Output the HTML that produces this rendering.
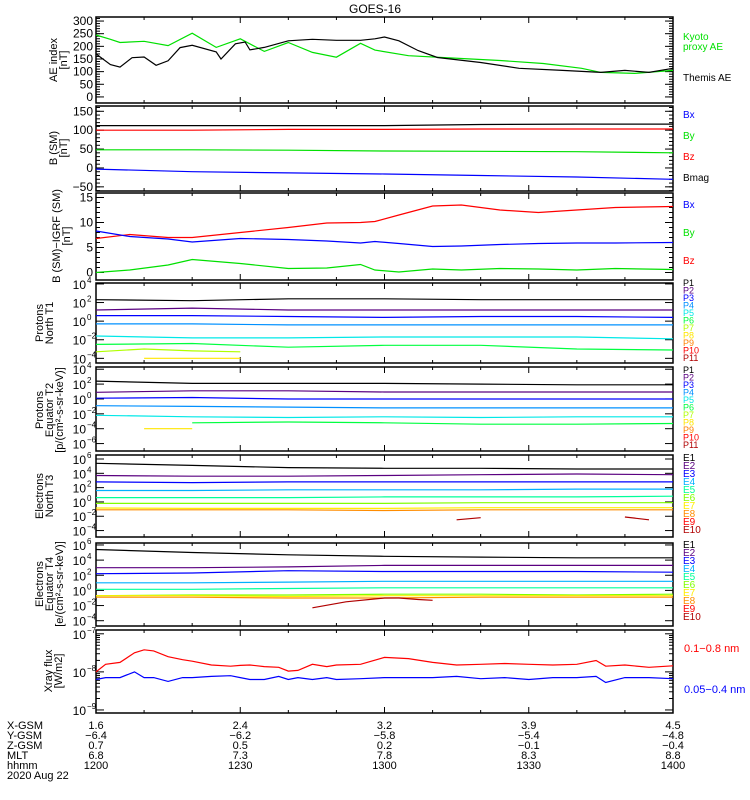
<!DOCTYPE html>
<html><head><meta charset="utf-8"><style>
body{margin:0;background:#fff;}
svg{display:block;font-family:"Liberation Sans",sans-serif;}
</style></head><body>
<svg id="c" width="750" height="800" viewBox="0 0 750 800"></svg>
<script>
// ---------- data ----------
const aeKyotoT=[0,3,5,10,15,20,25,30,35,40,45,50,55,58,65,76,84,93,101,105,112,120];
const aeKyotoV=[245,228,215,220,203,252,196,230,180,215,176,157,212,185,163,152,144,132,113,97,93,105];
const aeThemisT=[0,3,5,7.5,10,12.5,15,17.5,20,25,26,29,31,32,35,40,45,50,55,58,60,63,67,71,80,88,97,105,110,115,120];
const aeThemisV=[170,128,118,155,158,125,143,195,204,178,150,210,217,186,196,222,228,224,224,230,237,222,183,156,136,113,105,97,105,97,113];
const T7=[0,20,40,60,80,100,120];
const bmagV=[112,112,112,112,115,116,116];
const bzV=[100,100,102,102,103,103,103];
const byV=[48,48,47,45,44,43,40];
const bxV=[-3,-10,-13,-16,-20,-24,-30];
const dT=[0,7,15,20,30,40,48,55,58,63,70,76,84,92,100,108,120];
const dRed=[6.8,7.6,7.0,7.0,8.0,9.0,9.9,10.0,10.2,11.5,13.3,13.5,12.5,12.0,12.5,13.0,13.2];
const dBlue=[8.3,7.2,6.7,6.1,6.8,6.6,6.3,5.9,6.2,5.8,5.2,5.3,5.6,5.8,5.9,5.9,6.0];
const dGreen=[0,0.5,1.5,2.6,1.8,0.8,0.9,1.6,0.5,0.1,0.7,0.5,0.8,0.7,0.5,0.8,0.6];
const p1Series=[[2.3,2.2,2.4,2.4,2.3,2.3,2.3],[1.2,1.4,1.2,1.2,1.2,1.2,1.2],[0.6,0.6,0.5,0.4,0.5,0.5,0.4],[-0.3,-0.3,-0.4,-0.4,-0.4,-0.4,-0.4],[-1.6,-1.8,-1.8,-1.7,-1.7,-1.7,-1.9],[-2.5,-2.4,-2.8,-2.6,-2.6,-3.0,-3.1]];
const p1LowT=[0,10,20,30];const p1P7=[-3.3,-3.0,-3.2,-3.3];
const p1P8T=[10,30];const p1P8=[-4.0,-4.0];
const p2Series=[[2.4,2.1,2.1,2.1,2.0,1.9,1.9],[0.9,1.1,1.1,0.94,0.94,0.94,0.94],[0.1,0.2,0,0,0,0,0],[-0.9,-1.0,-1.1,-1.2,-1.2,-1.2,-1.2],[-2.2,-2.4,-2.5,-2.4,-2.5,-2.4,-2.4],[null,-3.2,-3.1,-3.2,-3.4,-3.4,-3.3]];
const p2P8T=[10,20];const p2P8=[-4.0,-4.0];
const e3Series=[[5.4,5.1,4.8,4.7,4.7,4.6,4.6],[3.7,3.6,3.6,3.7,3.8,3.9,3.8],[2.8,2.7,2.8,2.8,2.8,2.8,2.8],[1.6,1.6,1.7,1.7,1.7,1.8,1.8],[0.6,0.6,0.6,0.7,0.7,0.7,0.8],[-0.2,-0.2,-0.2,-0.2,-0.1,-0.1,-0.1],[-0.85,-0.9,-0.9,-0.9,-0.8,-0.8,-0.8],[-1.1,-1.1,-1.1,-1.2,-1.1,-1.1,-1.1]];
const e3E10aT=[75,80];const e3E10a=[-2.5,-2.2];
const e3E10bT=[110,115];const e3E10b=[-2.1,-2.5];
const e4Series=[[5.4,5.0,4.7,4.5,4.4,4.3,4.3],[3.0,3.0,3.1,3.3,3.3,3.3,3.3],[2.2,2.3,2.6,2.5,2.5,2.5,2.4],[1.0,1.0,1.1,1.2,1.2,1.2,1.2],[0.15,0.15,0.25,0.35,0.35,0.35,0.35],[-0.7,-0.6,-0.6,-0.5,-0.5,-0.6,-0.5],[-0.7,-0.7,-0.8,-0.7,-0.7,-0.7,-0.7],[-0.9,-0.9,-1.0,-1.0,-0.9,-0.9,-0.9]];
const e4E10T=[45,52,60,63,67,70];const e4E10=[-2.3,-1.5,-1.0,-1.0,-1.2,-1.3];
const xT=[0,2,5,8,10,12,15,18,20,24,28,30,32,35,38,40,42,45,48,50,55,60,65,70,75,80,85,90,95,100,104,106,110,115,120];
const xRed=[-8.0,-7.8,-7.75,-7.5,-7.42,-7.45,-7.6,-7.68,-7.72,-7.82,-7.85,-7.83,-7.82,-7.86,-7.88,-7.98,-7.96,-7.8,-7.86,-7.82,-7.8,-7.62,-7.65,-7.75,-7.82,-7.8,-7.78,-7.8,-7.82,-7.8,-7.7,-7.85,-7.82,-7.88,-7.84];
const xBlue=[-8.2,-8.15,-8.15,-8.0,-8.15,-8.15,-8.25,-8.15,-8.15,-8.12,-8.1,-8.15,-8.2,-8.2,-8.12,-8.2,-8.15,-8.2,-8.15,-8.2,-8.18,-8.15,-8.15,-8.15,-8.12,-8.18,-8.15,-8.2,-8.15,-8.15,-8.12,-8.28,-8.15,-8.15,-8.18];
const bottomLabels=["X-GSM","Y-GSM","Z-GSM","MLT","hhmm"];
const bottomVals=[["1.6","2.4","3.2","3.9","4.5"],["-6.4","-6.2","-5.8","-5.4","-4.8"],["0.7","0.5","0.2","-0.1","-0.4"],["6.8","7.3","7.8","8.3","8.8"],["1200","1230","1300","1330","1400"]];

// ---------- drawing ----------
const NS="http://www.w3.org/2000/svg";const svg=document.getElementById('c');
const X0=96,X1=673;
const xs=t=>X0+(X1-X0)*t/120;
function el(tag,a,parent){const e=document.createElementNS(NS,tag);for(const k in a)e.setAttribute(k,a[k]);(parent||svg).appendChild(e);return e;}
function txt(x,y,s,opt,parent){opt=opt||{};const e=el('text',{x:x,y:y,'font-size':opt.fs||11,fill:opt.fill||'#000','text-anchor':opt.anchor||'start'},parent);
 if(opt.rot)e.setAttribute('transform','rotate(-90 '+x+' '+y+')');e.textContent=s;return e;}
const P10=['#000','#5a0080','#0000ff','#0090ff','#00e8e8','#00ff40','#b0ff00','#ffe600','#ff8000','#ff0000','#b00000'];
const E10=['#000','#5a0080','#0000ff','#00b0ff','#00ff9a','#80ff00','#ffee00','#ff8c00','#ff0000','#b00000'];
function panel(name,top,bot,vmax,vmin){
 const g=el('g',{},svg);
 
 
 const ys=v=>top+(bot-top)*(vmax-v)/(vmax-vmin);
 el('rect',{x:X0,y:top,width:X1-X0,height:bot-top,fill:'none',stroke:'#000','stroke-width':1.5},g);
 for(let t=0;t<=120;t+=10){const L=(t%30===0)?6:3;const x=xs(t);
  el('line',{x1:x,y1:bot,x2:x,y2:bot-L,stroke:'#000'},g);el('line',{x1:x,y1:top,x2:x,y2:top+L,stroke:'#000'},g);}
 return {g,ys};
}
function series(p,ts,vs,color,name){let d='';let pen=false;
 ts.forEach((t,i)=>{const v=vs[i];if(v===null||v===undefined){pen=false;return;}d+=(pen?'L':'M')+xs(t).toFixed(1)+' '+p.ys(v).toFixed(1);pen=true;});
 const e=el('path',{d:d,fill:'none',stroke:color,'stroke-width':1.2},p.g);
 
 }
function linTicks(p,vals,minor,vmin,vmax){vals.forEach(v=>{const y=p.ys(v);
 el('line',{x1:X0,y1:y,x2:X0+8,y2:y,stroke:'#000'},p.g);el('line',{x1:X1,y1:y,x2:X1-8,y2:y,stroke:'#000'},p.g);
 txt(X0-3,y+4,String(v).replace('-','\u2212'),{anchor:'end',fs:12},p.g);});
 for(let v=vmin;v<=vmax;v+=minor){const y=p.ys(v);el('line',{x1:X0,y1:y,x2:X0+4,y2:y,stroke:'#000'},p.g);el('line',{x1:X1,y1:y,x2:X1-4,y2:y,stroke:'#000'},p.g);}}
function logTicks(p,exps){exps.forEach(e=>{const y=p.ys(e);
 el('line',{x1:X0,y1:y,x2:X0+8,y2:y,stroke:'#000'},p.g);el('line',{x1:X1,y1:y,x2:X1-8,y2:y,stroke:'#000'},p.g);
 txt(X0-10,y+5,'10',{anchor:'end',fs:12},p.g);
 txt(X0-9,y-1,String(e).replace('-','\u2212'),{fs:8},p.g);});}
function legend(items,x,y0,dy,fs){items.forEach((it,i)=>{const e=txt(x,y0+i*dy,it[0],{fill:it[1],fs:fs||10});
 
 });}
function ytitle(lines,x,yc,dx){lines.forEach((s,i)=>{const e=txt(x+i*(dx||10),yc,s,{rot:true,anchor:'middle',fs:11});
 
 });}

const title=txt(375,13,'GOES-16',{anchor:'middle',fs:12});



// Panel 1 AE
let p=panel('ae-index-panel',17,103,316,-24);
linTicks(p,[0,50,100,150,200,250,300],10,0,310);
series(p,aeKyotoT,aeKyotoV,'#00e000','kyoto-ae-line');
series(p,aeThemisT,aeThemisV,'#000','themis-ae-line');
ytitle(['AE index','[nT]'],57,60);
legend([['Kyoto','#00e000'],['proxy AE','#00e000']],683,40,10);
legend([['Themis AE','#000']],683,81,10);

// Panel 2 B SM
p=panel('b-sm-panel',106,191,164,-61);
linTicks(p,[-50,0,50,100,150],10,-60,160);
series(p,T7,bmagV,'#000','bmag-line');series(p,T7,bzV,'#ff0000','bz-line');
series(p,T7,byV,'#00e000','by-line');series(p,T7,bxV,'#0000ff','bx-line');
ytitle(['B (SM)','[nT]'],57,148);
legend([['Bx','#0000ff'],['By','#00e000'],['Bz','#ff0000'],['Bmag','#000']],683,118,21);

// Panel 3 B - IGRF
p=panel('b-minus-igrf-panel',193,280,15.9,-1.5);
linTicks(p,[0,5,10,15],1,0,15);
series(p,dT,dRed,'#ff0000','bz-diff-line');series(p,dT,dBlue,'#0000ff','bx-diff-line');series(p,dT,dGreen,'#00e000','by-diff-line');
ytitle(['B (SM)\u2212IGRF (SM)','[nT]'],60,236);
legend([['Bx','#0000ff'],['By','#00e000'],['Bz','#ff0000']],683,208,28);

// Panel 4 protons T1
p=panel('protons-north-t1-panel',283,363,4.1,-4.5);
logTicks(p,[4,2,0,-2,-4]);
p1Series.forEach((vs,i)=>series(p,T7,vs,P10[i],'p'+(i+1)+'-line'));
series(p,p1LowT,p1P7,P10[6],'p7-line');series(p,p1P8T,p1P8,P10[7],'p8-line');
ytitle(['Protons','North T1'],43,323);
legend(P10.map((c,i)=>['P'+(i+1),c]),683,286,7.5,9);

// Panel 5 protons T2
p=panel('protons-equator-t2-panel',367,451,4.3,-7);
logTicks(p,[4,2,0,-2,-4,-6]);
p2Series.forEach((vs,i)=>series(p,T7,vs,P10[i],'p'+(i+1)+'-line'));
series(p,p2P8T,p2P8,P10[7],'p8-line');
ytitle(['Protons','Equator T2','[p/(cm\u00b2-s-sr-keV)]'],43,410);
legend(P10.map((c,i)=>['P'+(i+1),c]),683,373,7.5,9);

// Panel 6 electrons T3
p=panel('electrons-north-t3-panel',455,537,6.56,-4.9);
logTicks(p,[6,4,2,0,-2,-4]);
e3Series.forEach((vs,i)=>series(p,T7,vs,E10[i],'e'+(i+1)+'-line'));
series(p,e3E10aT,e3E10a,E10[9],'e10-line');series(p,e3E10bT,e3E10b,E10[9],'e10-line-2');
ytitle(['Electrons','North T3'],43,496);
legend(E10.map((c,i)=>['E'+(i+1),c]),683,461,8,10);

// Panel 7 electrons T4
p=panel('electrons-equator-t4-panel',543,626,6.26,-4.7);
logTicks(p,[6,4,2,0,-2,-4]);
e4Series.forEach((vs,i)=>series(p,T7,vs,E10[i],'e'+(i+1)+'-line'));
series(p,e4E10T,e4E10,E10[9],'e10-line');
ytitle(['Electrons','Equator T4','[e/(cm\u00b2-s-sr-keV)]'],43,584);
legend(E10.map((c,i)=>['E'+(i+1),c]),683,548,8,10);

// Panel 8 X-ray
p=panel('xray-flux-panel',630,713,-6.9,-9.08);
logTicks(p,[-7,-8,-9]);
for(let d=-9;d<-7;d++)for(let m=2;m<10;m++){const y=p.ys(d+Math.log10(m));
 el('line',{x1:X0,y1:y,x2:X0+4,y2:y,stroke:'#000'},p.g);el('line',{x1:X1,y1:y,x2:X1-4,y2:y,stroke:'#000'},p.g);}
series(p,xT,xRed,'#ff0000','xray-long-line');series(p,xT,xBlue,'#0000ff','xray-short-line');
ytitle(['Xray flux','[W/m2]'],52,671);
legend([['0.1\u22120.8 nm','#ff0000']],684,652,1,11);
legend([['0.05\u22120.4 nm','#0000ff']],684,693,1,11);

// bottom labels
bottomLabels.forEach((s,r)=>{const y=729+r*10;
 const e=txt(7,y,s,{fs:11});
 bottomVals[r].forEach((v,k)=>{txt(xs(k*30),y,v.replace('-','\u2212'),{anchor:'middle',fs:11});});});
const dt=txt(7,779,'2020 Aug 22',{fs:11});


</script>
</body></html>
